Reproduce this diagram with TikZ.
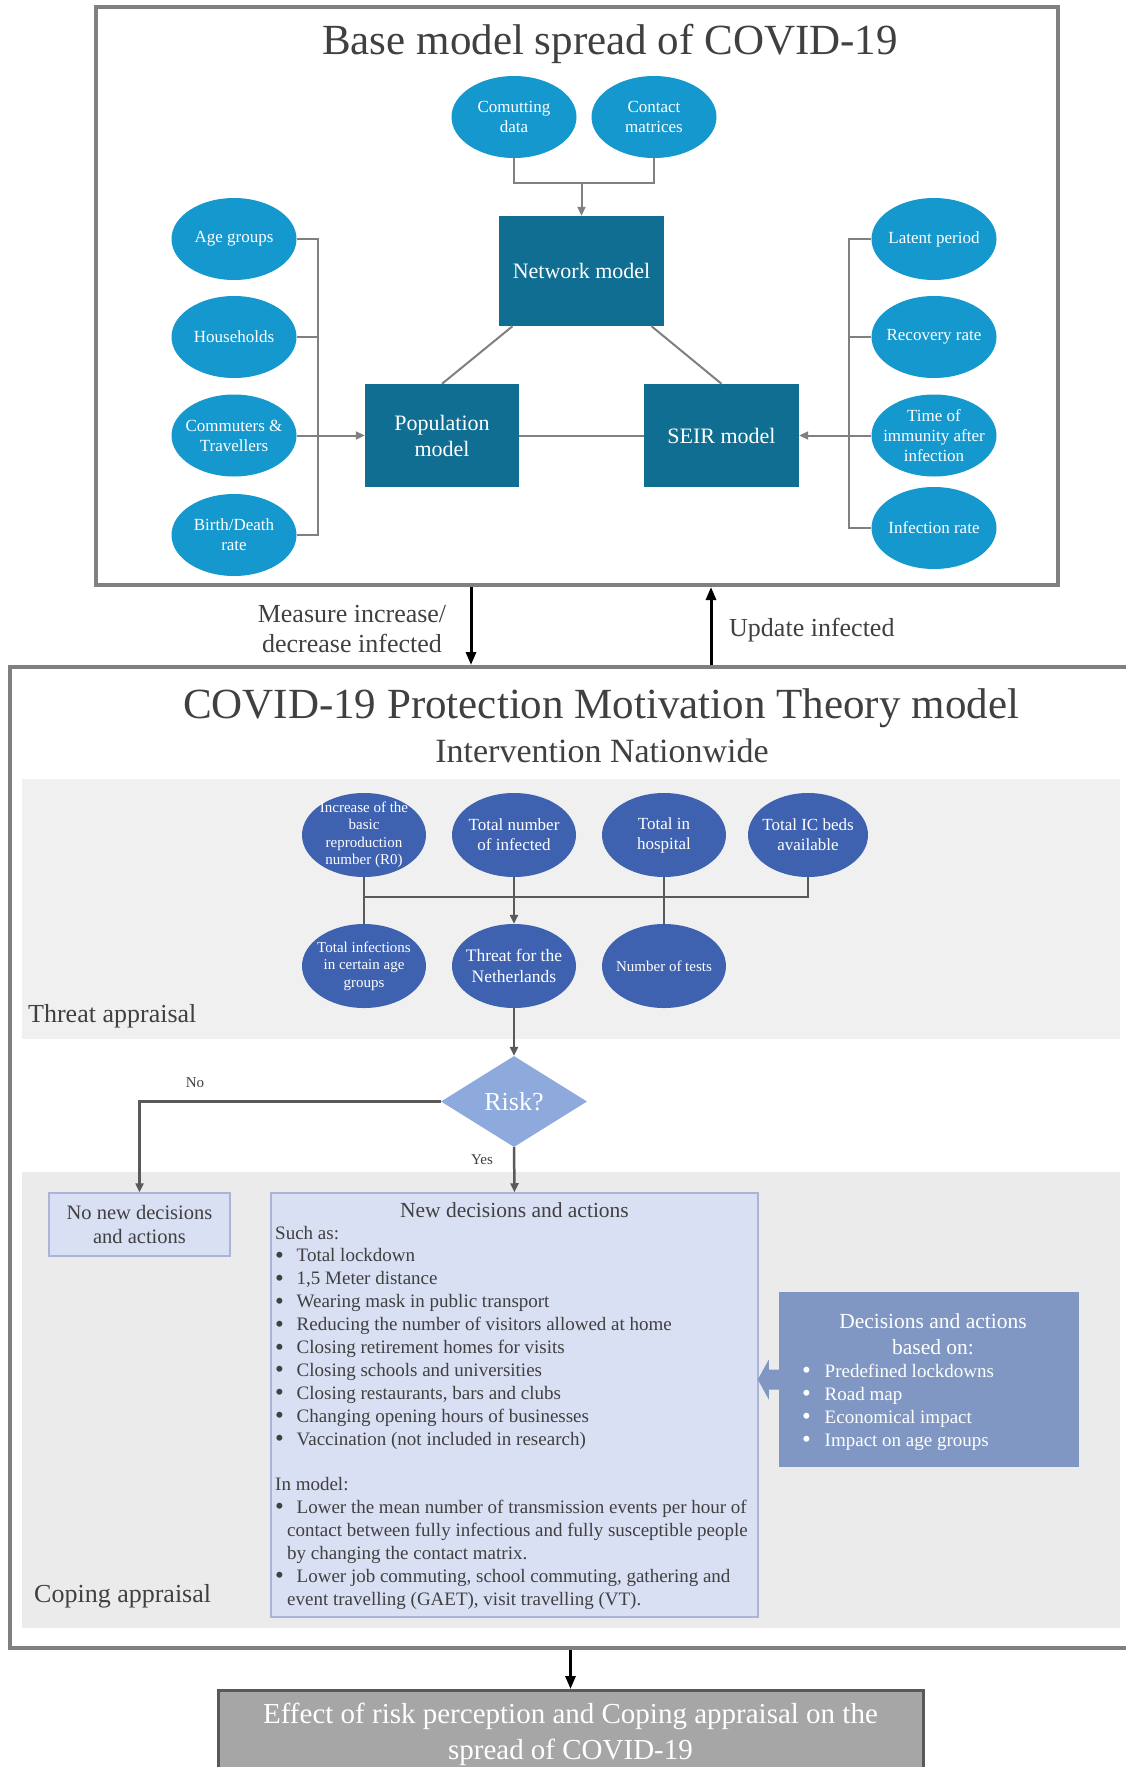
\documentclass[tikz,border=0pt]{standalone}
\usepackage{fontspec}
\setmainfont{Liberation Serif}
\usepackage{tikz}
\usetikzlibrary{shapes.geometric,arrows.meta,calc}

\definecolor{marco}{HTML}{808080}
\definecolor{cian}{HTML}{1498CE}
\definecolor{petroleo}{HTML}{106E92}
\definecolor{azul}{HTML}{3E62B0}
\definecolor{celeste}{HTML}{8EA9DB}
\definecolor{lavanda}{HTML}{DAE0F3}
\definecolor{borde}{HTML}{A9B4D8}
\definecolor{acero}{HTML}{7F97C2}
\definecolor{zona}{HTML}{F0F0F0}
\definecolor{zonab}{HTML}{EBEBEB}
\definecolor{texto}{HTML}{404040}
\definecolor{linea}{HTML}{5A5A5A}
\definecolor{grisfin}{HTML}{A6A6A6}
\definecolor{grisborde}{HTML}{595959}

\newcommand{\fsz}[2]{\fontsize{#1}{#2}\selectfont}
\newcommand{\punto}{\makebox[21.5pt][l]{\raisebox{-1.5pt}{\fsz{25}{23}\textbullet}}}

\begin{document}
\begin{tikzpicture}[x=1pt,y=-1pt,
    marcobox/.style={draw=marco, line width=4pt, inner sep=0pt},
    param/.style={ellipse, fill=cian, text=white, minimum width=125pt, minimum height=82pt,
        inner sep=-30pt, align=center, font=\fsz{17}{20}},
    modelo/.style={rectangle, fill=petroleo, text=white, inner sep=0pt, align=center, font=\fsz{22}{26}},
    amenaza/.style={ellipse, fill=azul, text=white, minimum width=124pt, minimum height=84pt,
        inner sep=-30pt, align=center, font=\fsz{17}{20}},
    riesgo/.style={diamond, aspect=1.6, fill=celeste, text=white, minimum width=146pt,
        minimum height=91pt, inner sep=0pt, font=\fsz{26}{30}},
    lila/.style={rectangle, fill=lavanda, draw=borde, line width=1.5pt, text=texto, inner sep=0pt},
    acerobox/.style={rectangle, fill=acero, inner sep=0pt},
    titulo/.style={text=texto, inner sep=0pt, font=\fsz{43}{50}},
    subtitulo/.style={text=texto, inner sep=0pt, font=\fsz{34}{40}},
    etiqueta/.style={text=texto, inner sep=0pt, font=\fsz{26}{30}},
    encab/.style={text=texto, inner sep=0pt, font=\fsz{21.5}{25}},
    cuerpo/.style={text=texto, inner sep=0pt, font=\fsz{19}{23}},
    nota/.style={text=texto, inner sep=0pt, font=\fsz{15}{18}},
    gline/.style={draw=marco, line width=2pt},
    gtip/.style={-{Triangle[length=9pt,width=8pt]}},
    dline/.style={draw=linea, line width=2.5pt},
    bigarrow/.style={draw=black, line width=3pt, -{Triangle[length=13pt,width=10pt]}},
    finalbox/.style={rectangle, fill=grisfin, draw=grisborde, line width=3pt, text=white,
        align=center, font=\fsz{29}{36}}
]

    % Fondo y tamano de la hoja
    \useasboundingbox (0,0) rectangle (1126,1767);
    \fill[white] (0,0) rectangle (1126,1767);

    % Marcos principales
    \node[marcobox, minimum width=962pt, minimum height=578pt] (base) at (577,296) {};
    \node[marcobox, minimum width=1131pt, minimum height=981pt] (pmt) at (575,1157.5) {};

    % Modelo base
    \node[titulo, anchor=base] (basetitle) at (610,54) {Base model spread of COVID-19};

    \node[modelo, minimum width=165pt, minimum height=110pt] (net) at (581.5,271) {Network model};
    \node[modelo, minimum width=154pt, minimum height=103pt] (pop) at (442,435.5) {Population\\model};
    \node[modelo, minimum width=155pt, minimum height=103pt] (seir) at (721.5,435.5) {SEIR model};

    \node[param] (comut) at (514,117) {Comutting\\data};
    \node[param] (contact) at (654,117) {Contact\\matrices};

    \node[param] (age) at (234,239) {Age groups};
    \node[param] (house) at (234,337) {Households};
    \node[param] (comm) at (234,435.5) {Commuters \&\\Travellers};
    \node[param] (birth) at (234,535) {Birth/Death\\rate};

    \node[param] (latent) at (934,239) {Latent period};
    \node[param] (recov) at (934,337) {Recovery rate};
    \node[param] (immun) at (934,435.5) {Time of\\immunity after\\infection};
    \node[param] (infrate) at (934,528) {Infection rate};

    % Conexiones del modelo base
    \coordinate (cbar) at (net.north |- 0,183);
    \draw[gline] (comut.south) |- (cbar);
    \draw[gline] (contact.south) |- (cbar);
    \draw[gline, gtip] (cbar) -- (net.north);

    \draw[gline] ($(net.south)+(-69,0)$) -- (pop.north);
    \draw[gline] ($(net.south)+(70,0)$) -- (seir.north);
    \draw[gline] (pop.east) -- (seir.west);

    \coordinate (lbar) at (318,435.5); % barra izquierda
    \draw[gline] (age.east) -| (lbar);
    \draw[gline] (birth.east) -| (lbar);
    \draw[gline] (house.east) -- (house.east -| lbar);
    \draw[gline, gtip] (comm.east) -- (pop.west);

    \coordinate (rbar) at (849,435.5); % barra derecha
    \draw[gline] (latent.west) -| (rbar);
    \draw[gline] (infrate.west) -| (rbar);
    \draw[gline] (recov.west) -- (recov.west -| rbar);
    \draw[gline, gtip] (immun.west) -- (seir.east);

    % Flechas entre los dos modelos
    \coordinate (downx) at (471,0);
    \coordinate (upx) at (711,0);
    \draw[bigarrow] (base.south -| downx) -- (pmt.north -| downx);
    \draw[bigarrow] (pmt.north -| upx) -- (base.south -| upx);
    \node[etiqueta, align=center] (measlbl) at (352,629) {Measure increase/\\decrease infected};
    \node[etiqueta, anchor=base west] (updlbl) at (729,636) {Update infected};

    % Modelo PMT
    \node[titulo, anchor=base] (pmttitle) at (601,718) {COVID-19 Protection Motivation Theory model};
    \node[subtitulo, anchor=base] (nation) at (602,762) {Intervention Nationwide};

    \fill[zona] (22,779) rectangle (1120,1039);   % threat appraisal
    \fill[zonab] (22,1172) rectangle (1120,1628); % coping appraisal
    \node[etiqueta, anchor=base west] (threatlbl) at (28,1022) {Threat appraisal};
    \node[etiqueta, anchor=base west] (copinglbl) at (34,1602) {Coping appraisal};

    % Factores de amenaza
    \node[amenaza, font=\fsz{15}{17.5}] (r0) at (364,835) {Increase of the\\basic\\reproduction\\number (R0)};
    \node[amenaza] (totinfd) at (514,835) {Total number\\of infected};
    \node[amenaza] (hosp) at (664,835) {Total in\\hospital};
    \node[amenaza, minimum width=120pt] (icbeds) at (808,835) {Total IC beds\\available};
    \node[amenaza, font=\fsz{15}{17.5}] (agegr) at (364,966) {Total infections\\in certain age\\groups};
    \node[amenaza, font=\fsz{17.5}{21}] (threat) at (514,966) {Threat for the\\Netherlands};
    \node[amenaza, font=\fsz{15}{17.5}] (tests) at (664,966) {Number of tests};

    \coordinate (tbar) at (0,897);
    \draw[dline] (r0.south) -- (agegr.north);
    \draw[dline, gtip] (totinfd.south) -- (threat.north);
    \draw[dline] (hosp.south) -- (tests.north);
    \draw[dline] (icbeds.south) |- (r0.south |- tbar);

    % Decision
    \node[riesgo] (risk) at (514,1101.5) {Risk?};
    \node[lila, minimum width=181pt, minimum height=63pt, align=center, font=\fsz{20.5}{24.5}] (nonew) at (139.5,1224.5) {No new decisions\\and actions};
    \node[lila, minimum width=487pt, minimum height=424pt] (newdec) at (514.5,1405) {};

    \draw[dline, gtip] (threat.south) -- (risk.north);
    \draw[dline, gtip] (risk.west) -| (nonew.north);
    \draw[dline, gtip] (risk.south) -- (newdec.north);
    \node[nota] (nolbl) at (195,1083) {No};
    \node[nota] (yeslbl) at (482,1160) {Yes};

    % Nuevas decisiones
    \node[encab, anchor=base] (newdectitle) at (514.5,1217) {New decisions and actions};
    \node[cuerpo, anchor=base west] (suchas) at (275,1239) {Such as:};
    \foreach \txt [count=\i] in {Total lockdown, {1,5 Meter distance}, Wearing mask in public transport,
        Reducing the number of visitors allowed at home, Closing retirement homes for visits,
        Closing schools and universities, {Closing restaurants, bars and clubs},
        Changing opening hours of businesses, Vaccination (not included in research)}
        \node[cuerpo, anchor=base west] (action\i) at (275,{1239+22.9*\i}) {\punto\txt};

    \node[cuerpo, anchor=base west] (inmodel) at (275,1490) {In model:};
    \node[cuerpo, anchor=base west] (model1) at (275,1513) {\punto Lower the mean number of transmission events per hour of};
    \node[cuerpo, anchor=base west] (model1b) at (287,1536) {contact between fully infectious and fully susceptible people};
    \node[cuerpo, anchor=base west] (model1c) at (287,1559) {by changing the contact matrix.};
    \node[cuerpo, anchor=base west] (model2) at (275,1582) {\punto Lower job commuting, school commuting, gathering and};
    \node[cuerpo, anchor=base west] (model2b) at (287,1605) {event travelling (GAET), visit travelling (VT).};

    % Base de las decisiones
    \node[acerobox, minimum width=300pt, minimum height=175pt] (basedon) at (929,1379.5) {};
    \node[encab, text=white, anchor=base] (basedtitle) at (933,1328) {Decisions and actions};
    \node[encab, text=white, anchor=base] (basedtitleb) at (933,1354) {based on:};
    \foreach \txt [count=\i] in {Predefined lockdowns, Road map, Economical impact, Impact on age groups}
        \node[cuerpo, text=white, anchor=base west] (basis\i) at (802,{1354+23*\i}) {\makebox[22.5pt][l]{\raisebox{-1.5pt}{\fsz{25}{23}\textbullet}}\txt};

    \fill[acero] ($(basedon.west)+(1,-10)$) -- ($(basedon.west)+(-10,-10)$) -- ($(basedon.west)+(-10,-20)$)
        -- ($(basedon.west)+(-21,0)$) -- ($(basedon.west)+(-10,20)$) -- ($(basedon.west)+(-10,10)$)
        -- ($(basedon.west)+(1,10)$) -- cycle;

    % Resultado final
    \node[finalbox, anchor=north, minimum width=705pt, inner ysep=13pt] (effect) at (570.5,1689) {Effect of risk perception and Coping appraisal on the\\spread of COVID-19};
    \draw[bigarrow] (effect.north |- pmt.south) -- (effect.north);

\end{tikzpicture}
\end{document}
